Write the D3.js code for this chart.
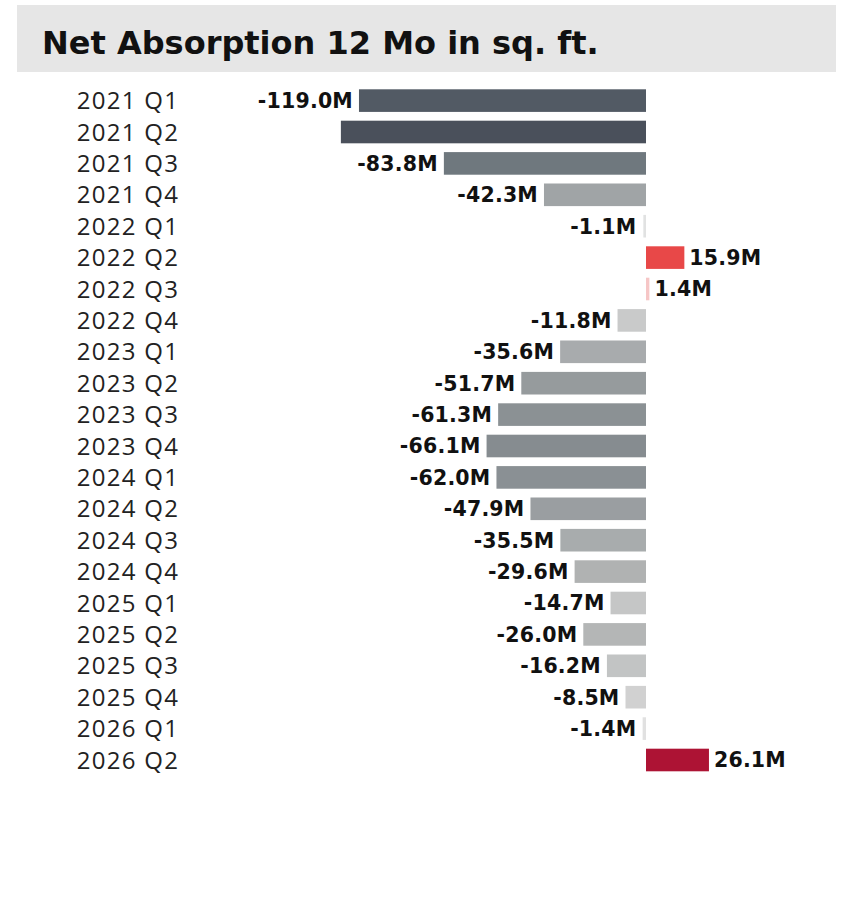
<!DOCTYPE html>
<html><head><meta charset="utf-8">
<script src="https://cdn.jsdelivr.net/npm/d3@7"></script>
<style>
body{margin:0;background:#fff;}
svg{display:block;}
</style></head>
<body>
<svg id="chart" width="842" height="908"></svg>
<script>
const title = "Net Absorption 12 Mo in sq. ft.";
const categories = ["2021 Q1","2021 Q2","2021 Q3","2021 Q4","2022 Q1","2022 Q2","2022 Q3","2022 Q4",
  "2023 Q1","2023 Q2","2023 Q3","2023 Q4","2024 Q1","2024 Q2","2024 Q3","2024 Q4",
  "2025 Q1","2025 Q2","2025 Q3","2025 Q4","2026 Q1","2026 Q2"];
const values = [-119.0,-126.5,-83.8,-42.3,-1.1,15.9,1.4,-11.8,-35.6,-51.7,-61.3,-66.1,-62.0,-47.9,-35.5,-29.6,-14.7,-26.0,-16.2,-8.5,-1.4,26.1];
const valueLabels = ["-119.0M","","-83.8M","-42.3M","-1.1M","15.9M","1.4M","-11.8M","-35.6M","-51.7M","-61.3M","-66.1M",
  "-62.0M","-47.9M","-35.5M","-29.6M","-14.7M","-26.0M","-16.2M","-8.5M","-1.4M","26.1M"];

const svg = d3.select("#chart");

// title band
svg.append("rect").attr("x",17).attr("y",5).attr("width",819).attr("height",67).attr("fill","#e6e6e6");
svg.append("text").attr("x",42).attr("y",54).text(title)
  .attr("font-family","'DejaVu Sans'").attr("font-weight",700).attr("font-size",32).attr("fill","#111");

const x = d3.scaleLinear().domain([-140, 30]).range([646 - 140*2.412, 646 + 30*2.412]);
const y = d3.scaleBand().domain(categories).range([89.3, 771.3]).paddingInner(0.28).paddingOuter(0);

const neg = d3.scaleLinear().domain([-126.5,-119,-83.8,-66.1,-42.3,-26,-11.8,0])
  .range(["#4a505b","#525a64","#6f787e","#868c90","#a0a4a6","#b4b6b6","#c9caca","#e4e4e4"]);
const pos = d3.scaleLinear().domain([0,1.4,15.9,26.1]).range(["#fde6e6","#f6c6c6","#e84848","#ad1334"]);
const color = v => v < 0 ? neg(v) : pos(v);

const rows = categories.map((c,i)=>({c, v:values[i], l:valueLabels[i]}));

svg.append("g").selectAll("rect").data(rows).join("rect")
  .attr("x", d => x(Math.min(0,d.v)))
  .attr("width", d => Math.max(1.5, Math.abs(x(d.v)-x(0))))
  .attr("y", d => y(d.c))
  .attr("height", y.bandwidth())
  .attr("fill", d => color(d.v));

// category labels
svg.append("g").selectAll("text").data(rows).join("text")
  .attr("x", 128).attr("y", d => y(d.c) + y.bandwidth()/2)
  .attr("dy","0.36em").attr("text-anchor","middle")
  .attr("font-family","'Open Sans'").attr("font-size",24).attr("fill","#222")
  .attr("letter-spacing", 1.3)
  .text(d => d.c);

// value labels
svg.append("g").selectAll("text").data(rows.filter(d=>d.l)).join("text")
  .attr("x", d => d.v < 0 ? x(Math.min(d.v, -1.5)) - 6 : x(Math.max(d.v,1.5)) + 5)
  .attr("y", d => y(d.c) + y.bandwidth()/2)
  .attr("dy","0.36em")
  .attr("text-anchor", d => d.v < 0 ? "end" : "start")
  .attr("font-family","'DejaVu Sans'").attr("font-weight",700).attr("font-size",20.5).attr("fill","#111")
  .attr("letter-spacing", 0.2)
  .text(d => d.l);
</script>
</body></html>
